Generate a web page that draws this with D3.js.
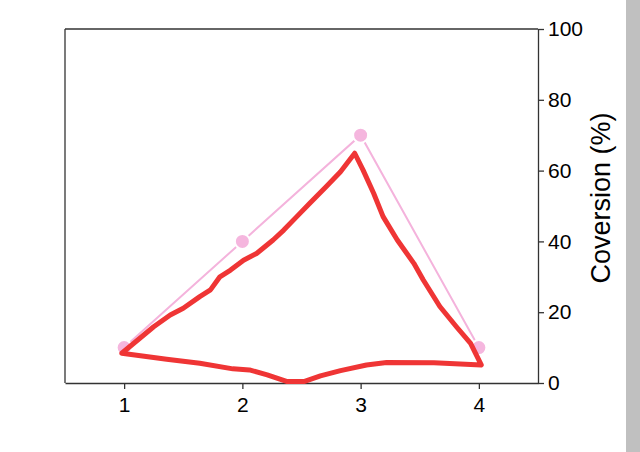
<!DOCTYPE html>
<html>
<head>
<meta charset="utf-8">
<script src="https://cdn.jsdelivr.net/npm/d3@7"></script>
<style>
  body { margin: 0; background: #fff; }
  text { font-family: "Liberation Sans", Arial, sans-serif; fill: #000; }
  .axis path, .axis line { stroke: #333; stroke-width: 1.3; }
  .axis text { font-size: 21px; }
</style>
</head>
<body>
<div id="chart"></div>
<script>
// pink series (points)
var steps = [1, 2, 3, 4];
var conversion = [10, 40, 70, 10];

// hand drawn red outline, in data units
var outlineX = [0.98, 1.25, 1.39, 1.50, 1.64, 1.73, 1.81, 1.90, 2.01, 2.12, 2.26, 2.35, 2.46, 2.57, 2.71, 2.83, 2.95,
                3.02, 3.11, 3.19, 3.31, 3.45, 3.53, 3.67, 3.81, 3.93, 4.02,
                3.62, 3.22, 3.05, 2.83, 2.66, 2.52, 2.38, 2.21, 2.06, 1.92, 1.64, 1.36];
var outlineY = [8.4, 15.9, 19.2, 21.1, 24.4, 26.3, 30.0, 31.9, 34.7, 36.6, 40.4, 43.2, 47.0, 50.8, 55.5, 59.7, 64.9,
                60.2, 53.6, 47.0, 40.4, 33.8, 29.1, 21.6, 15.9, 11.2, 5.1,
                5.7, 5.8, 5.1, 3.5, 2.0, 0.4, 0.4, 2.3, 3.7, 4.0, 5.6, 6.7];

var xTicks = [1, 2, 3, 4];
var yTicks = [0, 20, 40, 60, 80, 100];

var width = 640, height = 452;
var margin = {top: 29, right: 102, bottom: 69, left: 65};
var w = width - margin.left - margin.right,
    h = height - margin.top - margin.bottom;

var svg = d3.select("#chart").append("svg")
  .attr("width", width)
  .attr("height", height);

// grey strip at the right edge
svg.append("rect")
  .attr("x", 626).attr("y", 0)
  .attr("width", 14).attr("height", height)
  .attr("fill", "#c0c0c0");

var g = svg.append("g")
  .attr("transform", "translate(" + margin.left + "," + margin.top + ")");

var x = d3.scaleLinear().domain([0.5, 4.5]).range([0, w]);
var y = d3.scaleLinear().domain([0, 100]).range([h, 0]);

// frame
g.append("line").attr("x1", 0).attr("x2", w).attr("y1", 0).attr("y2", 0)
  .attr("stroke", "#333").attr("stroke-width", 1.3);
g.append("line").attr("x1", 0).attr("x2", 0).attr("y1", 0).attr("y2", h)
  .attr("stroke", "#333").attr("stroke-width", 1.3);

// x axis
var xAxis = g.append("g")
  .attr("class", "axis")
  .attr("transform", "translate(0," + h + ")")
  .call(d3.axisBottom(x).tickValues(xTicks).tickSize(6).tickSizeOuter(0).tickFormat(d3.format("d")));
xAxis.selectAll("text").attr("y", 13).attr("dy", "0.75em");

// y axis on the right
var yAxis = g.append("g")
  .attr("class", "axis")
  .attr("transform", "translate(" + w + ",0)")
  .call(d3.axisRight(y).tickValues(yTicks).tickSize(6).tickSizeOuter(0));
yAxis.selectAll("text").attr("x", 10);

g.append("text")
  .attr("transform", "translate(" + (w + 72) + "," + (h / 2 - 8) + ") rotate(-90)")
  .style("text-anchor", "middle")
  .style("font-size", "27px")
  .text("Coversion (%)");

// pink line + markers
var pts = steps.map(function(d, i) { return {s: d, v: conversion[i]}; });
var line = d3.line()
  .x(function(d) { return x(d.s); })
  .y(function(d) { return y(d.v); });

g.append("path")
  .datum(pts)
  .attr("fill", "none")
  .attr("stroke", "#f4b3dc")
  .attr("stroke-width", 2)
  .attr("d", line);

g.selectAll(".dot")
  .data(pts)
  .enter().append("circle")
  .attr("class", "dot")
  .attr("cx", function(d) { return x(d.s); })
  .attr("cy", function(d) { return y(d.v); })
  .attr("r", 7.5)
  .attr("fill", "#f5b6de")
  .attr("stroke", "#fff")
  .attr("stroke-width", 2);

// red outline
var outline = outlineX.map(function(d, i) { return [d, outlineY[i]]; });
g.append("path")
  .datum(outline)
  .attr("fill", "none")
  .attr("stroke", "#ef3535")
  .attr("stroke-width", 5)
  .attr("stroke-linejoin", "round")
  .attr("d", d3.line()
    .x(function(d) { return x(d[0]); })
    .y(function(d) { return y(d[1]); })
    .curve(d3.curveLinearClosed));
</script>
</body>
</html>
